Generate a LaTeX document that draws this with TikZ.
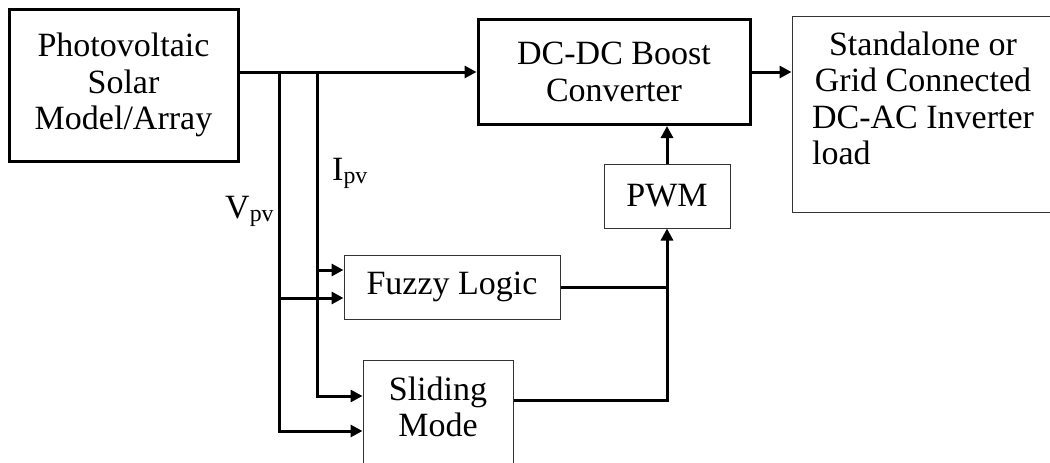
\documentclass[tikz,border=0pt]{standalone}
\usepackage{fontspec}
\setmainfont{Liberation Serif}
\usepackage{calc}
\usetikzlibrary{arrows.meta, positioning}

\begin{document}
\begin{tikzpicture}[x=1pt, y=-1pt,
  block/.style={rectangle, draw=black!80, line width=1pt, inner sep=0pt, align=center, font=\fontsize{34}{36.5}\selectfont},
  mainblock/.style={block, draw=black, line width=3pt},
  txt/.style={inner sep=0pt, align=center, font=\fontsize{34}{36.5}\selectfont},
  wire/.style={line width=3pt},
  conn/.style={wire, -{Triangle[length=12pt,width=12pt]}}
]
  \useasboundingbox (0,0) rectangle (1050,463);

  % blocks
  \node[mainblock, minimum width=229pt, minimum height=152pt] (pv) at (123.5,85) {Photovoltaic\\Solar\\Model/Array};
  \node[mainblock, minimum width=272pt, minimum height=105pt] (dcdc) at (614,72) {DC-DC Boost\\Converter};
  \node[block, minimum width=268pt, minimum height=196pt] (load) at (926,114) {};
  \node[txt] (loadtext) at (923,98.5) {Standalone or\\Grid Connected\\DC-AC Inverter\\\makebox[\widthof{DC-AC Inverter}][l]{load}};
  \node[block, minimum width=126pt, minimum height=64pt] (pwm) at (667,196) {PWM};
  \node[block, minimum width=216pt, minimum height=64pt] (fuzzy) at (452,287) {Fuzzy Logic};
  \node[block, minimum width=150pt, minimum height=110pt] (sliding) at (438,415) {};
  \node[txt] (slidingtext) at (438,407) {Sliding\\Mode};

  % measurement labels
  \node[txt, anchor=base west] (ipv) at (332,180) {I\textsubscript{pv}};
  \node[txt, anchor=base west] (vpv) at (225,218) {V\textsubscript{pv}};

  % taps
  \coordinate (vtap) at (279,72);
  \coordinate (itap) at (317,72);
  \coordinate (fzi) at ([yshift=17pt]fuzzy.west);
  \coordinate (fzv) at ([yshift=-11pt]fuzzy.west);
  \coordinate (sli) at ([yshift=19pt]sliding.west);
  \coordinate (slv) at ([yshift=-16pt]sliding.west);
  \coordinate (slo) at ([yshift=15pt]sliding.east);

  % power path
  \draw[conn] (pv.east |- dcdc.west) -- (dcdc.west);
  \draw[conn] (dcdc.east) -- (dcdc.east -| load.west);
  \draw[conn] (pwm.north) -- (pwm.north |- dcdc.south);

  % sensing lines
  \draw[conn] (vtap) |- (slv);
  \draw[conn] (itap) |- (sli);
  \draw[conn] (itap |- fzi) -- (fzi);
  \draw[conn] (vtap |- fzv) -- (fzv);

  % controller outputs
  \draw[wire] (fuzzy.east) -- (fuzzy.east -| pwm.south);
  \draw[conn] (slo) -| (pwm.south);
\end{tikzpicture}
\end{document}
